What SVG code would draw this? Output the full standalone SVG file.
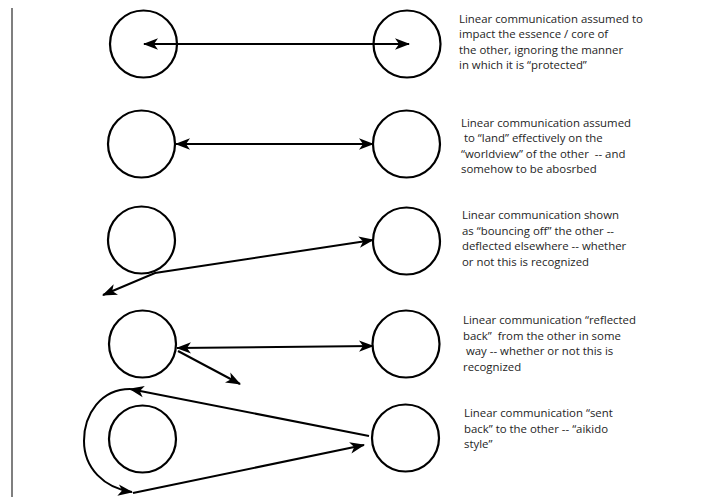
<svg xmlns="http://www.w3.org/2000/svg" width="706" height="497" viewBox="0 0 706 497">
<style>
.c{fill:none;stroke:#000;stroke-width:2.2}
.a{fill:none;stroke:#000;stroke-width:2;marker-end:url(#ah)}
.b{marker-start:url(#ah)}
.t{font-family:"Open Sans","Liberation Sans",sans-serif;font-size:11.4px;fill:#1e1e1e}
</style>
<defs>
<marker id="ah" markerUnits="userSpaceOnUse" markerWidth="15" markerHeight="12" viewBox="0 0 15 12" refX="14" refY="6" orient="auto-start-reverse">
<path d="M0,0.3 L15,6 L0,11.7 L4,6 z" fill="#000"/>
</marker>
</defs>
<rect width="706" height="497" fill="#fff"/>
<line x1="12" y1="8" x2="12" y2="497" stroke="#555" stroke-width="1.5"/>

<g id="row1-left"><circle class="c" cx="143.5" cy="44" r="33.5"/></g>
<g id="row1-right"><circle class="c" cx="407" cy="44" r="33.5"/></g>
<g id="row2-left"><circle class="c" cx="141.5" cy="144" r="33.5"/></g>
<g id="row2-right"><circle class="c" cx="406.5" cy="144" r="33.5"/></g>
<g id="row3-left"><circle class="c" cx="141.5" cy="240" r="33.5"/></g>
<g id="row3-right"><circle class="c" cx="406.5" cy="241" r="33.5"/></g>
<g id="row4-left"><circle class="c" cx="142.5" cy="344" r="33.5"/></g>
<g id="row4-right"><circle class="c" cx="406" cy="344" r="33.5"/></g>
<g id="row5-left"><circle class="c" cx="142.5" cy="439" r="33.5"/></g>
<g id="row5-right"><circle class="c" cx="405.5" cy="438" r="33.5"/></g>

<g id="connectors">
<line class="a b" x1="144" y1="44" x2="409" y2="44"/>
<line class="a b" x1="176" y1="144" x2="373" y2="144"/>
<path class="a b" d="M373,240 L155,273 L103,295"/>
<line class="a b" x1="177" y1="348" x2="373" y2="346"/>
<line class="a" x1="178" y1="351" x2="240" y2="384"/>
<line class="a" x1="369" y1="436" x2="130" y2="389"/>
<path class="a" d="M130,389 C101,389 84,414 84,441 C84,468 104,488 132,492"/>
<line class="a" x1="133" y1="493" x2="364" y2="445"/>
</g>

<g id="label1" class="t">
<text x="459" y="22.5">Linear communication assumed to</text>
<text x="459" y="38">impact the essence / core of</text>
<text x="459" y="53.5">the other, ignoring the manner</text>
<text x="459" y="69">in which it is “protected”</text>
</g>
<g id="label2" class="t">
<text x="461" y="126.5">Linear communication assumed</text>
<text x="461" y="142" xml:space="preserve"> to “land” effectively on the</text>
<text x="461" y="157.5" xml:space="preserve">“worldview” of the other  -- and</text>
<text x="461" y="173">somehow to be abosrbed</text>
</g>
<g id="label3" class="t">
<text x="462" y="219">Linear communication shown</text>
<text x="462" y="234.5">as “bouncing off” the other --</text>
<text x="462" y="250">deflected elsewhere -- whether</text>
<text x="462" y="265.5">or not this is recognized</text>
</g>
<g id="label4" class="t">
<text x="463" y="324">Linear communication “reflected</text>
<text x="463" y="339.5" xml:space="preserve">back”  from the other in some</text>
<text x="463" y="355" xml:space="preserve"> way -- whether or not this is</text>
<text x="463" y="370.5">recognized</text>
</g>
<g id="label5" class="t">
<text x="464" y="417">Linear communication “sent</text>
<text x="464" y="432.5">back” to the other -- “aikido</text>
<text x="464" y="448">style”</text>
</g>
</svg>
